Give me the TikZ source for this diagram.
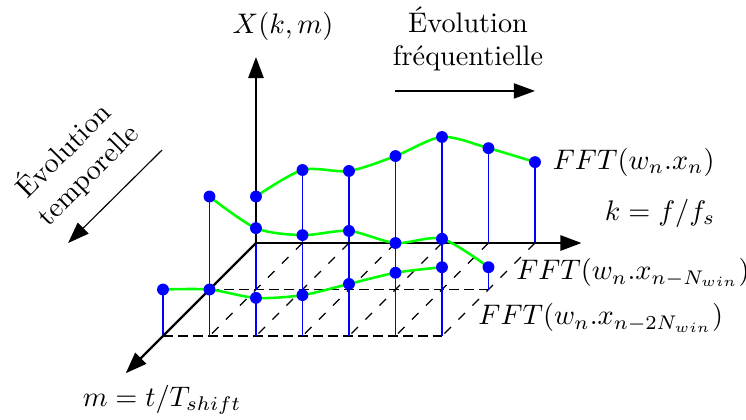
\documentclass[tikz,border=0pt]{standalone}
\usepackage{fontspec}
\usepackage{amsmath}
\usepackage{tikz}
\usetikzlibrary{arrows.meta,positioning,calc}

\begin{document}
\begin{tikzpicture}[
    x=0.578cm, y=0.578cm,
    axis/.style={-{Triangle[length=7.5pt, width=5.4pt]}, line width=0.8pt},
    evolarrow/.style={-{Triangle[length=7.5pt, width=5.4pt]}, thin},
    gridline/.style={thin, dash pattern=on 3.5pt off 1.8pt},
    diagline/.style={thin, dash pattern=on 3.3pt off 3.7pt},
    stem/.style={blue, thin},
    spectrum/.style={green, line width=0.9pt},
    sample/.style={circle, fill=blue, inner sep=0pt, minimum size=4.2pt}
]
\useasboundingbox (-5.505,-3.785) rectangle (10.538,5.226);

% axes
\coordinate (O) at (0,0);
\coordinate (Xend) at (0,4.0);
\coordinate (kend) at (7,0);
\coordinate (mend) at (-2.8,-2.8);

% samples of the three FFT frames
\foreach \k/\h in {0/1.0, 1/1.57, 2/1.55, 3/1.87, 4/2.28, 5/2.04, 6/1.74} {
    \coordinate (b0\k) at (\k,0);
    \coordinate (p0\k) at (\k,\h);
}
\foreach \k/\h in {0/2.0, 1/1.32, 2/1.17, 3/1.26, 4/1.0, 5/1.09, 6/0.48} {
    \coordinate (b1\k) at (\k-1,-1);
    \coordinate (p1\k) at (\k-1,\h-1);
}
\foreach \k/\h in {0/1.0, 1/1.0, 2/0.82, 3/0.88, 4/1.12, 5/1.36, 6/1.48} {
    \coordinate (b2\k) at (\k-2,-2);
    \coordinate (p2\k) at (\k-2,\h-2);
}

% floor
\draw[gridline] (b10) -- (b16);
\draw[gridline] (b20) -- (b26);
\foreach \k in {1,...,6}
    \draw[diagline] (b0\k) -- (b2\k);

\foreach \m in {0,1,2}
    \foreach \k in {0,...,6}
        \draw[stem] (b\m\k) -- (p\m\k);

\draw[axis] (O) -- (Xend);
\draw[axis] (O) -- (kend);
\draw[axis] (O) -- (mend);

\foreach \m in {0,1,2}
    \draw[spectrum] plot[smooth] coordinates {(p\m0) (p\m1) (p\m2) (p\m3) (p\m4) (p\m5) (p\m6)};

\foreach \m in {0,1,2}
    \foreach \k in {0,...,6}
        \node[sample] (s\m\k) at (p\m\k) {};

% labels
\node (Xlabel) at (0.58,4.65) {$X(k,m)$};
\node (klabel) at (8.69,0.645) {$k=f/f_s$};
\node (mlabel) at (-2.02,-3.38) {$m=t/T_{shift}$};
\node[right=0.5pt of s06] (fft0) {$FFT(w_n.x_n)$};
\node[right=4pt of s16, yshift=-2pt] (fft1) {$FFT(w_n.x_{n-N_{win}})$};
\node[anchor=west] (fft2) at (4.57,-1.61) {$FFT(w_n.x_{n-2N_{win}})$};

\node[align=center] (freqtxt) at (4.56,4.39) {Évolution\\fréquentielle};
\coordinate (fa) at (2.99,3.27);
\coordinate (fb) at (6.0,3.27);
\draw[evolarrow] (fa) -- (fb);

\node[align=center, rotate=45] (temptxt) at (-3.89,1.74) {Évolution\\temporelle};
\coordinate (ta) at (-2.02,2.0);
\coordinate (tb) at (-4.04,0);
\draw[evolarrow] (ta) -- (tb);
\end{tikzpicture}
\end{document}
